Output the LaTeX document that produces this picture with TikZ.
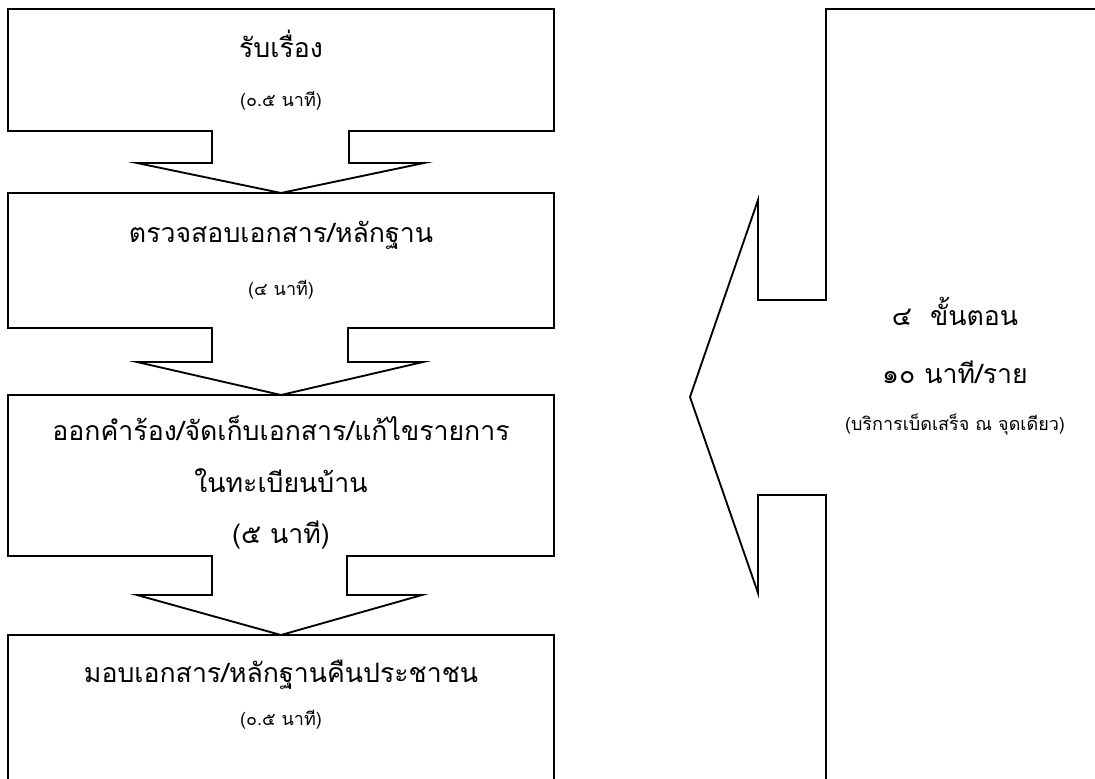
\documentclass[tikz,border=0pt]{standalone}
\usepackage{fontspec}
\newfontfamily\thai[Script=Thai]{Loma}
\begin{document}
\begin{tikzpicture}[x=0.75pt,y=-0.75pt,
  shp/.style={draw=black,line width=1.4pt,line join=miter},
  big/.style={font=\thai\fontsize{20}{24}\selectfont,anchor=base,inner sep=0pt},
  small/.style={font=\thai\fontsize{13.5}{16}\selectfont,anchor=base,inner sep=0pt}]
\useasboundingbox (0,0) rectangle (1095,778);
% left callouts
\draw[shp] (8,9) -- (554,9) -- (554,131) -- (349,131) -- (349,163) -- (424,163) -- (281,193) -- (137,163) -- (212,163) -- (212,131) -- (8,131) -- cycle;
\draw[shp] (8,193) -- (554,193) -- (554,328) -- (348,328) -- (348,362) -- (423,362) -- (281,395) -- (137,362) -- (212,362) -- (212,328) -- (8,328) -- cycle;
\draw[shp] (8,395) -- (554,395) -- (554,556) -- (347,556) -- (347,595) -- (422,595) -- (281,635) -- (137,595) -- (212,595) -- (212,556) -- (8,556) -- cycle;
\draw[shp] (8,779) -- (8,635) -- (554,635) -- (554,779);
% right callout
\draw[shp] (1096,9) -- (826,9) -- (826,300) -- (758,300) -- (758,200) -- (690,397) -- (758,593) -- (758,495) -- (826,495) -- (826,779);
% texts
\node[big]   (t1a) at (281,57)  {รับเรื่อง};
\node[small] (t1b) at (281,106) {(๐.๕ นาที)};
\node[big]   (t2a) at (281,242) {ตรวจสอบเอกสาร/หลักฐาน};
\node[small] (t2b) at (281,295) {(๔ นาที)};
\node[big]   (t3a) at (281,440) {ออกคำร้อง/จัดเก็บเอกสาร/แก้ไขรายการ};
\node[big]   (t3b) at (281,492) {ในทะเบียนบ้าน};
\node[big]   (t3c) at (281,543) {(๕ นาที)};
\node[big]   (t4a) at (281,682) {มอบเอกสาร/หลักฐานคืนประชาชน};
\node[small] (t4b) at (281,725) {(๐.๕ นาที)};
\node[big]   (r1) at (955,325) {๔\ \ ขั้นตอน};
\node[big]   (r2) at (955,383) {๑๐ นาที/ราย};
\node[small] (r3) at (955,430) {(บริการเบ็ดเสร็จ ณ จุดเดียว)};
\end{tikzpicture}
\end{document}
